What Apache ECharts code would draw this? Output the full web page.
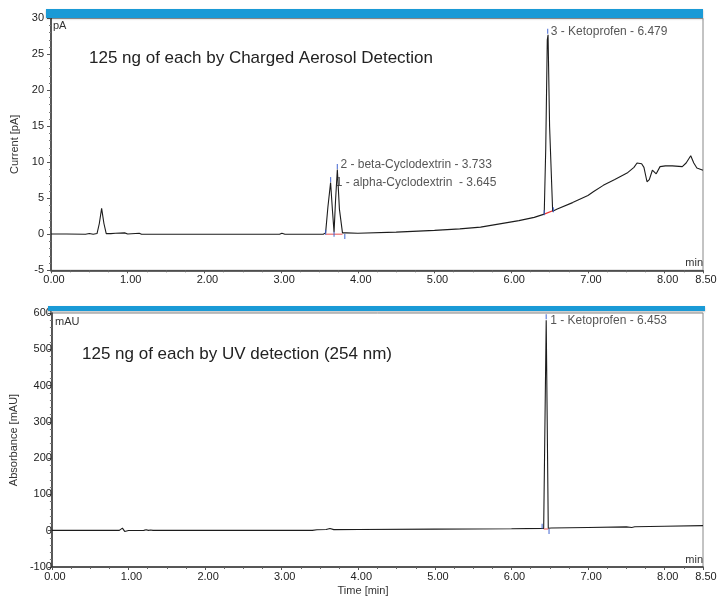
<!DOCTYPE html>
<html>
<head>
<meta charset="utf-8">
<script src="https://cdn.jsdelivr.net/npm/echarts@6/dist/echarts.min.js"></script>
<style>
html,body{margin:0;padding:0;background:#fff;}
#c{width:721px;height:596px;}
</style>
</head>
<body>
<div id="c"></div>
<script>
// ---- Top chromatogram: Charged Aerosol Detection (pA) ----
const cadTime = [0.00,0.20,0.45,0.50,0.55,0.60,0.63,0.66,0.69,0.72,0.78,0.80,0.84,0.96,1.00,1.15,1.18,1.68,1.70,1.73,1.92,1.94,1.97,2.03,2.05,2.08,2.34,2.36,2.39,2.98,3.01,3.05,3.55,3.58,3.61,3.645,3.67,3.69,3.71,3.733,3.76,3.80,3.85,4.00,4.50,5.00,5.33,5.60,5.85,6.10,6.30,6.43,6.45,6.47,6.48,6.50,6.54,6.60,6.80,7.00,7.07,7.20,7.35,7.51,7.60,7.64,7.70,7.73,7.77,7.80,7.84,7.89,7.94,8.01,8.10,8.23,8.28,8.34,8.38,8.42,8.50];
const cadSignal = [0.05,0.05,0.0,0.1,0.0,0.1,1.5,3.6,1.5,0.1,0.1,0.25,0.15,0.2,0.05,0.15,0.0,0.0,0.15,0.0,0.0,0.15,0.0,0.0,0.15,0.0,0.0,0.12,0.0,0.0,0.15,0.0,0.0,0.2,3.8,7.2,3.2,0.3,4.8,9.0,3.5,0.2,0.2,0.15,0.3,0.55,0.75,1.0,1.45,1.9,2.35,2.8,12.0,27.0,27.7,15.0,3.2,3.5,4.4,5.4,5.9,6.8,7.6,8.5,9.3,9.9,9.8,9.3,7.3,7.6,8.9,8.4,9.4,9.5,9.5,9.4,9.9,10.9,9.9,9.2,8.9];
const cadPeakTimes = [3.645, 3.733, 6.475];
const cadPeakHeights = [7.2, 9.0, 27.7];
const cadPeakNames = ['1 - alpha-Cyclodextrin  - 3.645', '2 - beta-Cyclodextrin - 3.733', '3 - Ketoprofen - 6.479'];
const cadBaseA_t = [3.58, 3.80];
const cadBaseA_v = [0.0, 0.0];
const cadBaseB_t = [6.43, 6.55];
const cadBaseB_v = [2.8, 3.3];
const cadMarkT = [3.58, 3.645, 3.69, 3.733, 3.83, 6.43, 6.475, 6.55];
const cadMarkV = [0.3, 7.6, 0.0, 9.4, -0.3, 3.0, 28.2, 3.4];

// ---- Bottom chromatogram: UV detection (mAU) ----
const uvTime = [0.00,0.88,0.92,0.95,0.97,1.00,1.20,1.23,1.26,1.29,1.32,3.40,3.46,3.58,3.63,3.68,4.00,5.00,6.00,6.42,6.453,6.48,6.52,7.00,7.50,7.57,7.61,8.00,8.50];
const uvSignal = [1,1,7,-2,-3,0.5,1,2.5,1,2,1,1,2.5,3.5,6,3,3.5,4.5,5.5,6.5,580,7,7.5,9,10.5,9,11,12.5,14];
const uvPeakTimes = [6.453];
const uvPeakHeights = [580];
const uvPeakNames = ['1 - Ketoprofen - 6.453'];
const uvBase_t = [6.42, 6.48];
const uvBase_v = [5, 5];
const uvMarkT = [6.40, 6.453, 6.49];
const uvMarkV = [12, 590, -2];

// tick labels
const xTickFmt = v => v.toFixed(2);

const zip = (a, b) => a.map((x, i) => [x, b[i]]);
const FONT = '"Liberation Sans", Arial, sans-serif';

const chart = echarts.init(document.getElementById('c'), null, {renderer: 'canvas'});

function xAxisCfg(gi) {
  return {
    type: 'value', gridIndex: gi, min: 0, max: 8.5, interval: 1,
    axisLine: {show: true, onZero: false, lineStyle: {color: '#333', width: 1.5}},
    axisTick: {show: true, length: 3, lineStyle: {color: '#555'}},
    minorTick: {show: true, splitNumber: 4, length: 2, lineStyle: {color: '#666'}},
    splitLine: {show: false},
    axisLabel: {formatter: xTickFmt, margin: 4, fontSize: 11, color: '#222', fontFamily: FONT, padding: [0, 0, 0, 6]}
  };
}
function yAxisCfg(gi, min, max, interval, name, margin) {
  return {
    type: 'value', gridIndex: gi, min: min, max: max, interval: interval,
    name: name, nameLocation: 'middle', nameGap: 26,
    nameTextStyle: {fontSize: 11, color: '#333', fontFamily: FONT},
    axisLine: {show: true, onZero: false, lineStyle: {color: '#333', width: 1.5}},
    axisTick: {show: true, length: 4, lineStyle: {color: '#555'}},
    minorTick: {show: true, splitNumber: 5, length: 2, lineStyle: {color: '#777'}},
    splitLine: {show: false},
    axisLabel: {margin: margin, fontSize: 11, color: '#222', fontFamily: FONT}
  };
}

function peakLabelSeries(xi, yi, times, heights, names, offsets) {
  return {
    type: 'scatter', xAxisIndex: xi, yAxisIndex: yi, symbolSize: 0.1, silent: true, z: 5,
    data: times.map((t, i) => ({
      value: [t, heights[i]],
      label: {show: true, position: 'right', distance: offsets[i][0], offset: [0, offsets[i][1]],
        formatter: names[i], fontSize: 12, color: '#2a2a2a', fontFamily: FONT}
    }))
  };
}

const option = {
  animation: false,
  backgroundColor: '#fff',
  grid: [
    {left: 51, right: 18, top: 18.3, height: 252, show: true, borderColor: '#888', borderWidth: 1, containLabel: false},
    {left: 51, right: 18, top: 313, height: 254, show: true, borderColor: '#888', borderWidth: 1, containLabel: false}
  ],
  xAxis: [xAxisCfg(0), xAxisCfg(1)],
  yAxis: [
    yAxisCfg(0, -5, 30, 5, 'Current [pA]', 7),
    yAxisCfg(1, -100, 600, 100, 'Absorbance [mAU]', 0)
  ],
  series: [
    {type: 'line', xAxisIndex: 0, yAxisIndex: 0, data: zip(cadTime, cadSignal), showSymbol: false, smooth: false,
      lineStyle: {color: '#1c1c1c', width: 1.1}, z: 3},
    {type: 'line', xAxisIndex: 0, yAxisIndex: 0, data: zip(cadBaseA_t, cadBaseA_v), showSymbol: false,
      lineStyle: {color: '#f08a8a', width: 1.5}, z: 2},
    {type: 'line', xAxisIndex: 0, yAxisIndex: 0, data: zip(cadBaseB_t, cadBaseB_v), showSymbol: false,
      lineStyle: {color: '#e83030', width: 1.2}, z: 2},
    {type: 'scatter', xAxisIndex: 0, yAxisIndex: 0, data: zip(cadMarkT, cadMarkV), symbol: 'rect', symbolSize: [1.2, 5],
      itemStyle: {color: '#3a5fd0'}, silent: true, z: 4},
    peakLabelSeries(0, 0, cadPeakTimes, cadPeakHeights, cadPeakNames, [[5, 0], [3, -5], [3, -3]]),

    {type: 'line', xAxisIndex: 1, yAxisIndex: 1, data: zip(uvTime, uvSignal), showSymbol: false, smooth: false,
      lineStyle: {color: '#1c1c1c', width: 1.1}, z: 3},
    {type: 'line', xAxisIndex: 1, yAxisIndex: 1, data: zip(uvBase_t, uvBase_v), showSymbol: false,
      lineStyle: {color: '#f08a8a', width: 1.5}, z: 2},
    {type: 'scatter', xAxisIndex: 1, yAxisIndex: 1, data: zip(uvMarkT, uvMarkV), symbol: 'rect', symbolSize: [1.2, 5],
      itemStyle: {color: '#3a5fd0'}, silent: true, z: 4},
    peakLabelSeries(1, 1, uvPeakTimes, uvPeakHeights, uvPeakNames, [[4, 0]])
  ],
  graphic: [
    {type: 'rect', shape: {x: 46, y: 9, width: 657, height: 9}, style: {fill: '#1a9ad6', shadowBlur: 2, shadowColor: 'rgba(0,0,0,0.25)', shadowOffsetY: 1}, z: 100},
    {type: 'rect', shape: {x: 48, y: 306, width: 657, height: 5}, style: {fill: '#1a9ad6', shadowBlur: 2, shadowColor: 'rgba(0,0,0,0.25)', shadowOffsetY: 1}, z: 100},
    {type: 'text', left: 53, top: 20, style: {text: 'pA', fontSize: 11, fill: '#333', fontFamily: FONT}, z: 100},
    {type: 'text', left: 55, top: 316, style: {text: 'mAU', fontSize: 11, fill: '#333', fontFamily: FONT}, z: 100},
    {type: 'text', right: 18, top: 257, style: {text: 'min', fontSize: 11, fill: '#333', fontFamily: FONT}, z: 100},
    {type: 'text', right: 18, top: 554, style: {text: 'min', fontSize: 11, fill: '#333', fontFamily: FONT}, z: 100},
    {type: 'text', left: 89, top: 50, style: {text: '125 ng of each by Charged Aerosol Detection', fontSize: 17, fill: '#222', fontFamily: FONT}, z: 100},
    {type: 'text', left: 82, top: 346, style: {text: '125 ng of each by UV detection (254 nm)', fontSize: 17, fill: '#222', fontFamily: FONT}, z: 100},
    {type: 'text', x: 363, y: 585, style: {text: 'Time [min]', fontSize: 11, fill: '#333', fontFamily: FONT, align: 'center', verticalAlign: 'top'}, z: 100}
  ]
};
chart.setOption(option);
</script>
</body>
</html>
